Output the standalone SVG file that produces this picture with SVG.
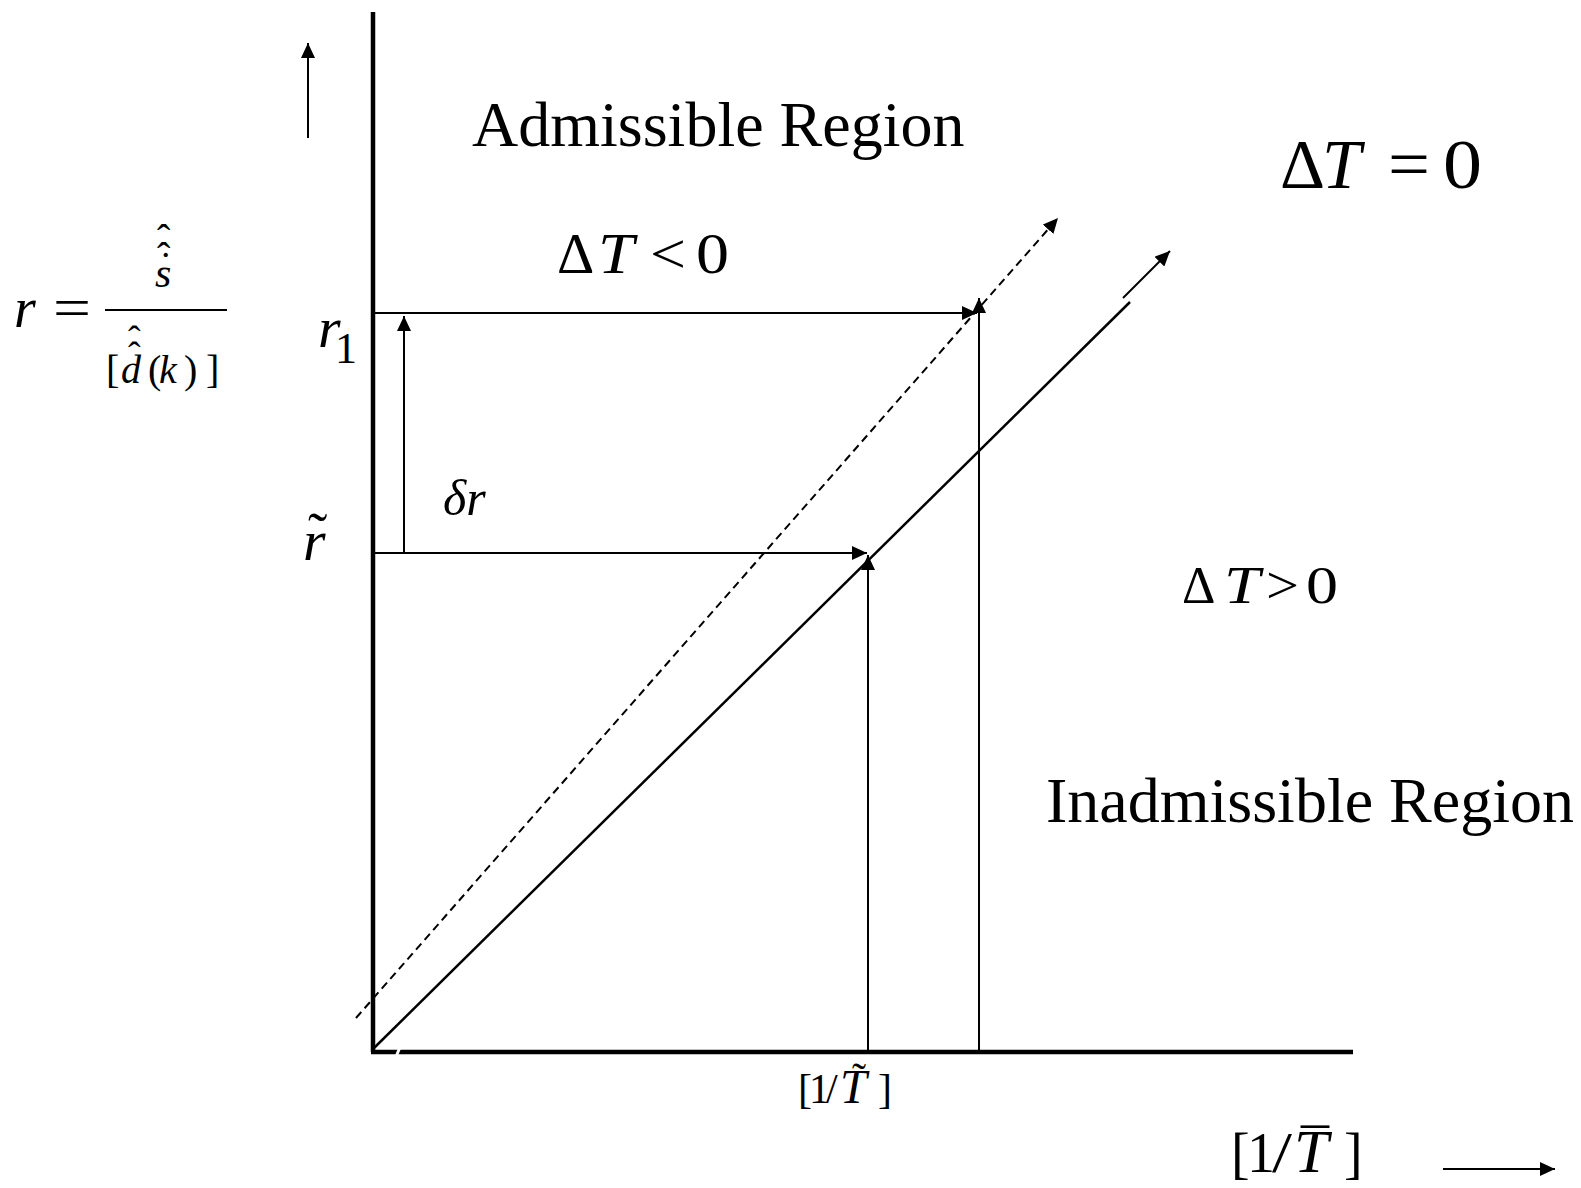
<svg xmlns="http://www.w3.org/2000/svg" width="1581" height="1188" viewBox="0 0 1581 1188">
<defs>
<marker id="ah" markerUnits="userSpaceOnUse" markerWidth="16" markerHeight="14" refX="15" refY="7" orient="auto">
<path d="M0,0 L15,7 L0,14 z" fill="#000"/>
</marker>
<style>
text{font-family:"Liberation Serif","Times New Roman",serif;fill:#000}
.i{font-style:italic}
.ln{stroke:#000;stroke-width:2;fill:none}
.ax{stroke:#000;stroke-width:4.5;fill:none}
.arr{marker-end:url(#ah)}
</style>
</defs>
<rect width="1581" height="1188" fill="#fff"/>

<g id="axes">
<line class="ax" x1="373" y1="12" x2="373" y2="1052"/>
<line class="ax" x1="371" y1="1052" x2="1353" y2="1052"/>
<line x1="396" y1="1057" x2="400" y2="1047" stroke="#fff" stroke-width="3"/>
</g>

<g id="connectors">
<line class="ln arr" x1="308" y1="138" x2="308" y2="43"/>
<line class="ln arr" x1="373" y1="313" x2="977" y2="313"/>
<line class="ln arr" x1="979" y1="1050" x2="979" y2="298"/>
<line class="ln arr" x1="404" y1="553" x2="404" y2="316"/>
<line class="ln arr" x1="373" y1="553" x2="867" y2="553"/>
<line class="ln arr" x1="868" y1="1051" x2="868" y2="555"/>
<line class="ln" x1="372" y1="1050" x2="1130" y2="302" style="stroke-width:2.5"/>
<line class="ln arr" x1="1123" y1="298" x2="1170" y2="251"/>
<line class="ln arr" x1="356" y1="1018" x2="1058" y2="218" style="stroke-dasharray:8 5"/>
<line class="ln arr" x1="1443" y1="1169" x2="1555" y2="1169"/>
</g>

<g id="label-admissible">
<text x="472" y="146" font-size="64">Admissible Region</text>
</g>
<g id="label-inadmissible">
<text x="1046" y="822" font-size="64">Inadmissible Region</text>
</g>
<g id="label-dT-eq" font-size="70">
<text x="1280" y="188">Δ</text>
<text class="i" x="1322" y="188">T</text>
<text x="1388" y="188" textLength="42" lengthAdjust="spacingAndGlyphs">=</text>
<text x="1443" y="188" textLength="39" lengthAdjust="spacingAndGlyphs">0</text>
</g>
<g id="label-dT-lt" font-size="58">
<text x="557" y="273">Δ</text>
<text class="i" x="598" y="273" textLength="36" lengthAdjust="spacingAndGlyphs">T</text>
<text x="650" y="273" textLength="36" lengthAdjust="spacingAndGlyphs">&lt;</text>
<text x="696" y="273" textLength="33" lengthAdjust="spacingAndGlyphs">0</text>
</g>
<g id="label-dT-gt" font-size="52">
<text x="1182" y="603">Δ</text>
<text class="i" x="1224" y="603" textLength="36" lengthAdjust="spacingAndGlyphs">T</text>
<text x="1266" y="603" textLength="33" lengthAdjust="spacingAndGlyphs">&gt;</text>
<text x="1306" y="603" textLength="32" lengthAdjust="spacingAndGlyphs">0</text>
</g>
<g id="label-dr">
<text class="i" x="443" y="515" font-size="50">δr</text>
</g>
<g id="label-r1">
<text class="i" x="318" y="347" font-size="58">r</text>
<text x="335" y="363" font-size="44">1</text>
</g>
<g id="label-rtilde">
<text class="i" x="303" y="560" font-size="58">r</text>
<text x="308" y="552" font-size="58">˜</text>
</g>
<g id="label-formula">
<text class="i" x="14" y="327" font-size="56">r</text>
<text x="53" y="327" font-size="56" textLength="38" lengthAdjust="spacingAndGlyphs">=</text>
<line class="ln" x1="105" y1="310" x2="227" y2="310"/>
<text class="i" x="155" y="287" font-size="42">s</text>
<text x="157" y="252" font-size="40">ˆ</text>
<text x="157" y="270" font-size="40">ˆ</text>
<text x="159" y="279" font-size="40">˙</text>
<g font-size="40">
<text x="106" y="383">[</text>
<text class="i" x="121" y="383">d</text>
<text x="148" y="383">(</text>
<text class="i" x="159" y="383">k</text>
<text x="184" y="383">)</text>
<text x="206" y="383">]</text>
</g>
<text x="128" y="352" font-size="38">ˆ</text>
<text x="128" y="368" font-size="38">ˆ</text>
</g>
<g id="label-xtilde">
<text x="798" y="1103" font-size="42">[</text>
<text x="809" y="1103" font-size="42">1</text>
<text x="826" y="1103" font-size="42">/</text>
<text class="i" x="840" y="1103" font-size="48">T</text>
<text x="878" y="1103" font-size="42">]</text>
<text x="852" y="1092" font-size="42">˜</text>
</g>
<g id="label-xbar">
<text x="1231" y="1172" font-size="56">[</text>
<text x="1247" y="1172" font-size="56" textLength="28" lengthAdjust="spacingAndGlyphs">1</text>
<text x="1272" y="1172" font-size="56" textLength="20" lengthAdjust="spacingAndGlyphs">/</text>
<text class="i" x="1294" y="1172" font-size="62">T</text>
<text x="1344" y="1172" font-size="56">]</text>
<text x="1301" y="1169" font-size="56">¯</text>
</g>
</svg>
